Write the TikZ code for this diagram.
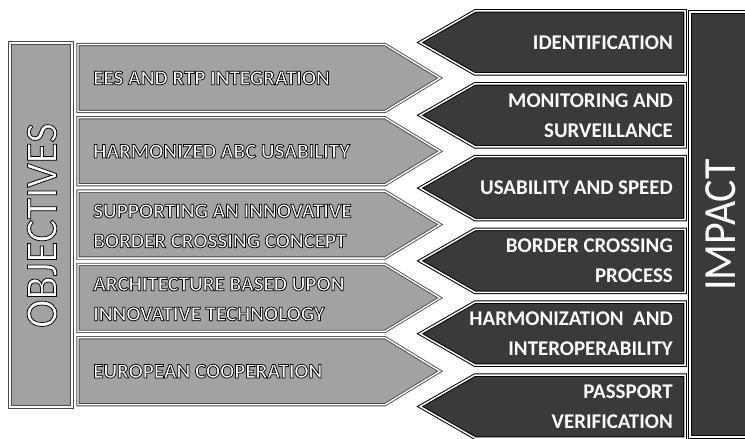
\documentclass[tikz,border=0pt]{standalone}
\usepackage{graphicx}
\usepackage{fontspec}
\setmainfont{Carlito}
\definecolor{objgray}{HTML}{A2A2A2}
\definecolor{objline}{HTML}{4A4A4A}
\definecolor{impdark}{HTML}{3A3A3A}
% white letters with a thin black outline (fill + stroke render mode)
\newcommand\outl[1]{\special{pdf:literal direct 0 G 0.75 w 2 Tr}#1\special{pdf:literal direct 0 Tr}}
\begin{document}
\begin{tikzpicture}[x=1bp,y=-1bp,
  objshape/.style={fill=objgray, draw=objline, line width=0.9bp, double=white, double distance=1.4bp, line join=miter},
  impshape/.style={fill=impdark, draw=black, line width=1bp, double=white, double distance=1.5bp, line join=miter},
  objtext/.style={anchor=west, align=left, text=white, inner sep=0pt, font=\fontsize{21}{30}\selectfont\bfseries},
  imptext/.style={anchor=east, align=right, text=white, inner sep=0pt, font=\fontsize{21}{30}\selectfont\bfseries},
  sidelabel/.style={rotate=90, text=white, inner sep=0pt}]
\useasboundingbox (0,0) rectangle (745,439);
\clip (0,0) rectangle (745,439);

% left column: objectives
\path[objshape] (10,43) rectangle (72,407);
\node[sidelabel, font=\fontsize{43}{45}\selectfont] (objectives) at (42,225.5)
  {\scalebox{1}[1.06]{\outl{OBJECTIVES}}};

\path[objshape] (78,44.5) -- (385,44.5) -- (440,78) -- (385,111.5) -- (78,111.5) -- cycle;
\path[objshape] (78,117.8) -- (385,117.8) -- (440,151.3) -- (385,184.8) -- (78,184.8) -- cycle;
\path[objshape] (78,191.1) -- (385,191.1) -- (440,224.6) -- (385,258.1) -- (78,258.1) -- cycle;
\path[objshape] (78,264.4) -- (385,264.4) -- (440,297.9) -- (385,331.4) -- (78,331.4) -- cycle;
\path[objshape] (78,337.7) -- (385,337.7) -- (440,371.2) -- (385,404.7) -- (78,404.7) -- cycle;

\node[objtext] (o1) at (93,78) {\outl{EES AND RTP INTEGRATION}};
\node[objtext] (o2) at (93,151.3) {\outl{HARMONIZED ABC USABILITY}};
\node[objtext] (o3) at (93,226) {\outl{SUPPORTING AN INNOVATIVE}\\\outl{BORDER CROSSING CONCEPT}};
\node[objtext] (o4) at (93,299) {\outl{ARCHITECTURE BASED UPON}\\\outl{INNOVATIVE TECHNOLOGY}};
\node[objtext] (o5) at (93,371.2) {\outl{EUROPEAN COOPERATION}};

% right column: impact
\path[impshape] (690,12) rectangle (760,437);
\node[sidelabel, font=\fontsize{42}{44}\selectfont] (impact) at (721,225)
  {\scalebox{1}[1.1]{IMPACT}};

\path[impshape] (685,11) -- (475,11) -- (420,42.5) -- (475,74) -- (685,74) -- cycle;
\path[impshape] (685,83.8) -- (475,83.8) -- (420,115.3) -- (475,146.8) -- (685,146.8) -- cycle;
\path[impshape] (685,156.6) -- (475,156.6) -- (420,188.1) -- (475,219.6) -- (685,219.6) -- cycle;
\path[impshape] (685,229.4) -- (475,229.4) -- (420,260.9) -- (475,292.4) -- (685,292.4) -- cycle;
\path[impshape] (685,302.2) -- (475,302.2) -- (420,333.7) -- (475,365.2) -- (685,365.2) -- cycle;
\path[impshape] (685,375) -- (475,375) -- (420,406.5) -- (475,438) -- (685,438) -- cycle;

\node[imptext] (i1) at (673,42.5) {IDENTIFICATION};
\node[imptext] (i2) at (673,115.3) {MONITORING AND\\SURVEILLANCE};
\node[imptext] (i3) at (673,188.1) {USABILITY AND SPEED};
\node[imptext] (i4) at (673,260.9) {BORDER CROSSING\\PROCESS};
\node[imptext] (i5) at (673,333.7) {HARMONIZATION\ \ AND\\INTEROPERABILITY};
\node[imptext] (i6) at (673,406.5) {PASSPORT\\VERIFICATION};
\end{tikzpicture}
\end{document}
